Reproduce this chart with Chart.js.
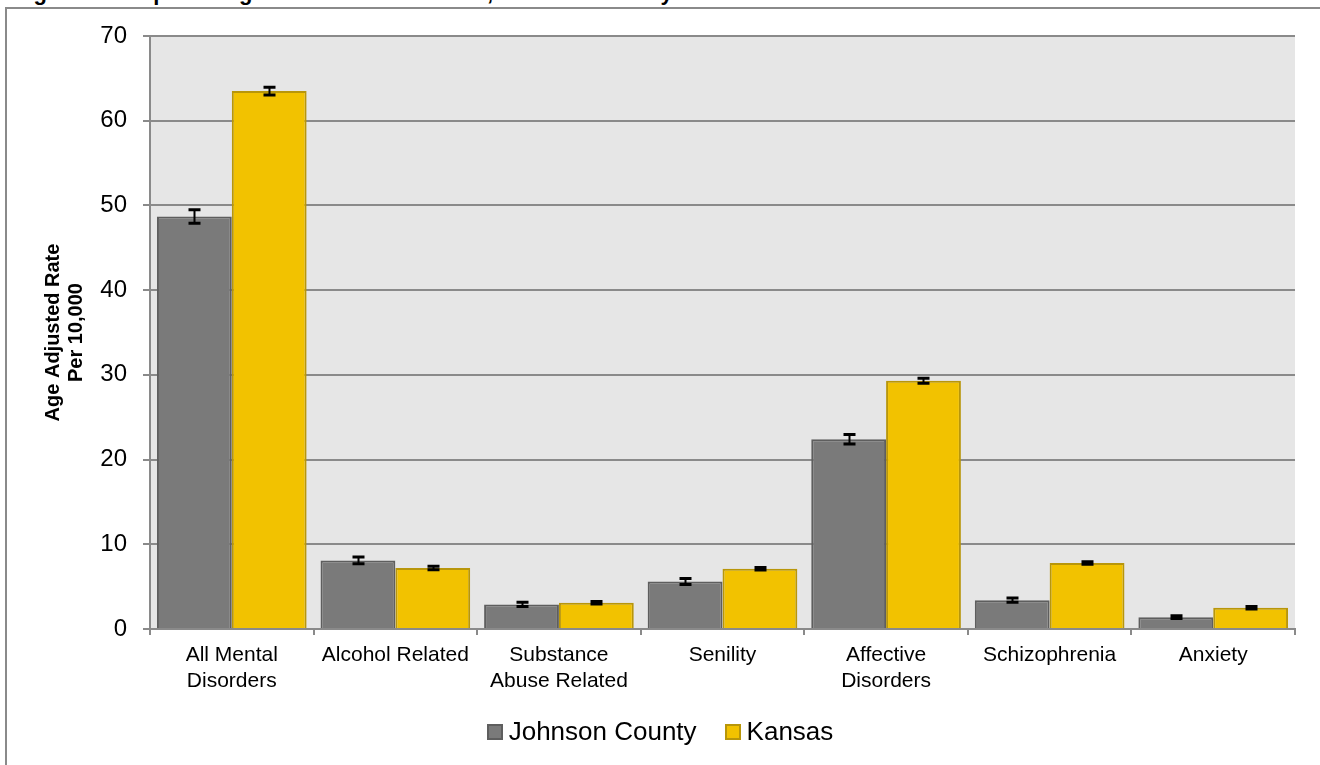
<!DOCTYPE html>
<html>
<head>
<meta charset="utf-8">
<script src="https://cdn.jsdelivr.net/npm/chart.js@4.4.1/dist/chart.umd.min.js"></script>
<style>
  body { margin: 0; background: #fff; width: 1320px; height: 765px; overflow: hidden; position: relative; font-family: Arial, "Liberation Sans", sans-serif; }
  #frame { position: absolute; left: 5px; top: 7px; width: 1400px; height: 900px; border: 2px solid #8a8a8a; }
  #title { position: absolute; left: 14px; top: -20px; font-weight: bold; font-size: 22px; color: #000; white-space: nowrap; }
  #wrap { position: absolute; left: 0; top: 0; width: 1320px; height: 765px; }
  #legend { position: absolute; left: 0; top: 716px; width: 1320px; text-align: center; font-size: 26px; color: #000; }
  #legend span.item { display: inline-block; margin: 0 14px; }
  #legend span.box { display: inline-block; width: 12px; height: 12px; border: 2px solid; margin-right: 6px; vertical-align: 0px; }
</style>
</head>
<body>
<div id="title">Figure 3. Hospital Diagnosis of Mental Illness, Johnson County and Kansas</div>
<div id="frame"></div>
<div id="wrap"><canvas id="myChart" width="1320" height="765"></canvas></div>
<div id="legend"></div>
<script>
// categories and values
const categories = [
  ["All Mental", "Disorders"],
  "Alcohol Related",
  ["Substance", "Abuse Related"],
  "Senility",
  ["Affective", "Disorders"],
  "Schizophrenia",
  "Anxiety"
];
const seriesNames = ["Johnson County", "Kansas"];
const johnsonValues = [48.7, 8.1, 2.9, 5.6, 22.4, 3.4, 1.4];
const kansasValues = [63.5, 7.2, 3.1, 7.1, 29.3, 7.8, 2.5];
// error bar half widths
const johnsonErr = [0.8, 0.4, 0.25, 0.35, 0.55, 0.25, 0.15];
const kansasErr = [0.45, 0.2, 0.15, 0.15, 0.3, 0.15, 0.15];
const yTicks = [0, 10, 20, 30, 40, 50, 60, 70];

const barColors = ["#7a7a7a", "#f2c200"];
const borderColors = ["#5e5e5e", "#b8960a"];

// light grey plot background
const plotBg = {
  id: "plotBg",
  beforeDraw(chart) {
    const {ctx, chartArea} = chart;
    ctx.save();
    ctx.fillStyle = "#e6e6e6";
    ctx.fillRect(chartArea.left, chartArea.top, chartArea.right - chartArea.left, chartArea.bottom - chartArea.top);
    ctx.restore();
  }
};

// error bars drawn from the y scale
const errorBars = {
  id: "errorBars",
  afterDatasetsDraw(chart) {
    const {ctx} = chart;
    const y = chart.scales.y;
    const errs = [johnsonErr, kansasErr];
    ctx.save();
    ctx.strokeStyle = "#000";
    chart.data.datasets.forEach((ds, di) => {
      const meta = chart.getDatasetMeta(di);
      meta.data.forEach((bar, i) => {
        const v = ds.data[i];
        const top = y.getPixelForValue(v + errs[di][i]);
        const bot = y.getPixelForValue(v - errs[di][i]);
        const x = Math.round(bar.x) + 0.5;
        ctx.lineWidth = 2;
        ctx.beginPath();
        ctx.moveTo(x, top); ctx.lineTo(x, bot);
        ctx.stroke();
        ctx.lineWidth = 3;
        ctx.beginPath();
        ctx.moveTo(x - 6, top); ctx.lineTo(x + 6, top);
        ctx.moveTo(x - 6, bot); ctx.lineTo(x + 6, bot);
        ctx.stroke();
      });
    });
    ctx.restore();
  }
};

const chart = new Chart("myChart", {
  type: "bar",
  data: {
    labels: categories,
    datasets: [
      { label: seriesNames[0], data: johnsonValues, backgroundColor: barColors[0], borderColor: borderColors[0], borderWidth: 2 },
      { label: seriesNames[1], data: kansasValues, backgroundColor: barColors[1], borderColor: borderColors[1], borderWidth: 2 }
    ]
  },
  options: {
    responsive: false,
    animation: false,
    categoryPercentage: 0.915,
    barPercentage: 1.0,
    layout: { padding: { left: 0, right: 25, top: 36, bottom: 76 } },
    plugins: {
      legend: { display: false },
      title: { display: false },
      tooltip: { enabled: false }
    },
    scales: {
      x: {
        grid: { drawOnChartArea: false, drawTicks: true, tickLength: 6, color: "#8a8a8a", lineWidth: 2 },
        border: { color: "#8a8a8a", width: 2 },
        ticks: { color: "#000", font: { size: 21, family: "Arial, 'Liberation Sans'", lineHeight: 1.2 }, padding: 8, maxRotation: 0, autoSkip: false },
        afterFit(scale) { scale.height = 60; }
      },
      y: {
        min: 0,
        max: 70,
        afterBuildTicks(scale) { scale.ticks = yTicks.map(v => ({ value: v })); },
        grid: { color: "#8a8a8a", lineWidth: 2, tickLength: 7 },
        border: { color: "#8a8a8a", width: 2 },
        ticks: { color: "#000", font: { size: 24, family: "Arial, 'Liberation Sans'" }, padding: 16 },
        title: {
          display: true,
          text: ["Age Adjusted Rate", "Per 10,000"],
          color: "#000",
          font: { size: 20, weight: "bold", family: "Arial, 'Liberation Sans'", lineHeight: 1.15 },
          padding: { top: 42, bottom: 0 }
        },
        afterFit(scale) { scale.width = 150; }
      }
    }
  },
  plugins: [plotBg, errorBars]
});

// legend built from the datasets
const legendEl = document.getElementById("legend");
chart.data.datasets.forEach(ds => {
  const item = document.createElement("span");
  item.className = "item";
  const box = document.createElement("span");
  box.className = "box";
  box.style.background = ds.backgroundColor;
  box.style.borderColor = ds.borderColor;
  item.appendChild(box);
  item.appendChild(document.createTextNode(ds.label));
  legendEl.appendChild(item);
});
</script>
</body>
</html>
